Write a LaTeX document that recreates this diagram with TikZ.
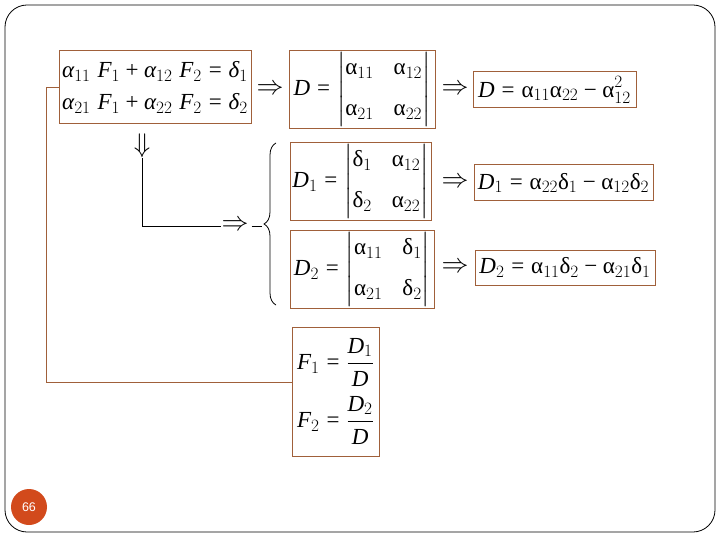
\documentclass[tikz,border=0pt]{standalone}
\usepackage{amsmath}
\usepackage{fontspec}
\setmainfont{Liberation Serif}
\setsansfont{Liberation Sans}
\usepackage{xcolor}
\definecolor{BoxBrown}{HTML}{A0603A}
\definecolor{SlideOrange}{HTML}{D24A1C}
\usepackage{tikz}
\usetikzlibrary{positioning, calc, decorations.pathreplacing}
\tikzstyle{eqbox} = [rectangle, draw=BoxBrown, line width=1pt, inner sep=2pt, align=center, font=\fontsize{23}{27.6}\selectfont]
\tikzstyle{impl} = [inner sep=0pt, scale=1.3, font=\fontsize{20}{20}\selectfont]
\tikzstyle{link} = [draw=BoxBrown, line width=1pt]
% letters in the text font
\newcommand{\ua}{\text{α}}
\newcommand{\ud}{\text{δ}}
\newcommand{\ia}{\text{\itshape α}}
\newcommand{\id}{\text{\itshape δ}}
\newcommand{\vD}{\text{\itshape D}}
\newcommand{\vF}{\text{\itshape F}}
\newcommand{\eq}{\mathrel{\text{=}}}
\newcommand{\pl}{\mathbin{\text{+}}}
\newcommand{\mi}{\mathbin{\text{−}}}
\newcommand{\detpair}[4]{\setlength\arraycolsep{10pt}\begin{vmatrix}#1 & #2\\[13pt] #3 & #4\end{vmatrix}}

\begin{document}
\begin{tikzpicture}[x=1pt,y=-1pt]
    \useasboundingbox (0,0) rectangle (720,540);
    \draw [rounded corners=22pt, line width=0.8pt] (5,5) rectangle (715,532);
    \node [circle, fill=SlideOrange, minimum size=36pt, inner sep=0pt, text=white, font=\sffamily\fontsize{12.5}{12.5}\selectfont] (page) at (29,507) {66};

    % First row
    \node [eqbox, minimum width=192pt, minimum height=73pt] (sys) at (155,87.5) {$\ia_{11}\;\vF_1\pl\ia_{12}\;\vF_2\eq\id_1$\\[4pt] $\ia_{21}\;\vF_1\pl\ia_{22}\;\vF_2\eq\id_2$};
    \node [impl] (imp1) at (270,90) {$\Rightarrow$};
    \node [eqbox, minimum width=146pt, minimum height=77pt] (det) at (362,89.5) {$\vD\eq\detpair{\ua_{11}}{\ua_{12}}{\ua_{21}}{\ua_{22}}$};
    \node [impl] (imp2) at (455,90) {$\Rightarrow$};
    \node [eqbox, minimum width=163pt, minimum height=36pt] (res) at (554.5,90) {$\vD\eq\ua_{11}\ua_{22}\mi\ua_{12}^2$};

    % D1 and D2
    \node [eqbox, minimum width=141pt, minimum height=77pt] (detone) at (360.5,181.5) {$\vD_1\eq\detpair{\ud_1}{\ua_{12}}{\ud_2}{\ua_{22}}$};
    \node [impl] (imp3) at (455,183) {$\Rightarrow$};
    \node [eqbox, minimum width=179pt, minimum height=36pt] (resone) at (563.5,183) {$\vD_1\eq\ua_{22}\ud_1\mi\ua_{12}\ud_2$};
    \node [eqbox, minimum width=144pt, minimum height=77pt] (dettwo) at (362,269.5) {$\vD_2\eq\detpair{\ua_{11}}{\ud_1}{\ua_{21}}{\ud_2}$};
    \node [impl] (imp4) at (455,268) {$\Rightarrow$};
    \node [eqbox, minimum width=180pt, minimum height=35pt] (restwo) at (565,267.5) {$\vD_2\eq\ua_{11}\ud_2\mi\ua_{21}\ud_1$};

    % Solution
    \node [eqbox, minimum width=87pt, minimum height=129pt] (frac) at (335.5,391.5) {$\vF_1\eq\dfrac{\vD_1}{\vD}$\\[8pt] $\vF_2\eq\dfrac{\vD_2}{\vD}$};

    % Connect nodes
    \node [impl] (down) at (142,146) {$\Downarrow$};
    \node [impl] (split) at (235,226) {$\Rightarrow$};
    \coordinate (bracetip) at (262,226);
    \draw [line width=0.8pt] (down.south) |- (split.west);
    \draw [line width=0.8pt, shorten <=3pt] (split.east) -- (bracetip);
    \draw [line width=0.8pt, decorate, decoration={brace, amplitude=12pt}] (276,305) -- (276,143);
    \draw [link] (sys.west) -- ++(-12,0) |- ([yshift=9pt]frac.west);
\end{tikzpicture}
\end{document}
